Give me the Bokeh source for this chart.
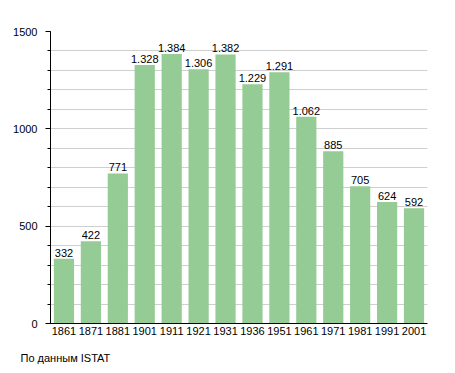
from bokeh.plotting import figure
from bokeh.models import ColumnDataSource, Range1d, FixedTicker, LabelSet, Title
from bokeh.core.properties import value
from bokeh.embed import file_html
from bokeh.resources import INLINE

years = ["1861", "1871", "1881", "1901", "1911", "1921", "1931", "1936", "1951", "1961", "1971", "1981", "1991", "2001"]
population = [332, 422, 771, 1328, 1384, 1306, 1382, 1229, 1291, 1062, 885, 705, 624, 592]
labels = ["{:,}".format(v).replace(",", ".") for v in population]

src = ColumnDataSource(dict(x=years, y=population, lab=labels))

p = figure(x_range=years, y_range=Range1d(0, 1500), output_backend="svg", toolbar_location=None,
           frame_width=377, frame_height=292, width=448, height=372,
           min_border_left=50, min_border_top=31, min_border_right=21, min_border_bottom=49)
p.x_range.range_padding = 0
p.outline_line_color = None
p.background_fill_color = "white"

p.vbar(x="x", top="y", width=0.75, source=src, fill_color="#95cb95", line_color=None)

p.add_layout(LabelSet(x="x", y="y", text="lab", source=src, text_align="center",
                      text_baseline="bottom", y_offset=2, text_font_size=value("11px"),
                      text_font=value("Liberation Sans"), text_color="black"))

p.xgrid.grid_line_color = None
p.ygrid.ticker = FixedTicker(ticks=list(range(0, 1501, 100)))
p.ygrid.grid_line_color = "#cfcfcf"
p.ygrid.grid_line_width = 1

p.yaxis.ticker = FixedTicker(ticks=[0, 500, 1000, 1500], minor_ticks=list(range(0, 1501, 100)))
p.yaxis.major_tick_in = 0
p.yaxis.major_tick_out = 5
p.yaxis.minor_tick_in = 0
p.yaxis.minor_tick_out = 3
p.yaxis.axis_line_color = "black"
p.yaxis.major_tick_line_color = "black"
p.yaxis.minor_tick_line_color = "black"
p.yaxis.major_label_text_color = "black"
p.yaxis.major_label_text_font = "Liberation Sans"
p.yaxis.major_label_text_font_size = "11px"
p.yaxis.major_label_standoff = 8

p.xaxis.major_tick_line_color = None
p.xaxis.minor_tick_line_color = None
p.xaxis.major_tick_out = 0
p.xaxis.major_tick_in = 0
p.xaxis.axis_line_color = "black"
p.xaxis.major_label_text_color = "black"
p.xaxis.major_label_text_font = "Liberation Sans"
p.xaxis.major_label_text_font_size = "11px"
p.xaxis.major_label_standoff = 3

cap = Title(text="По данным  ISTAT", align="left", offset=-30, text_font="Liberation Sans",
            text_font_size="11px", text_font_style="normal", text_color="black", standoff=25)
p.add_layout(cap, "below")

open("out.html", "w").write(file_html(p, INLINE))
